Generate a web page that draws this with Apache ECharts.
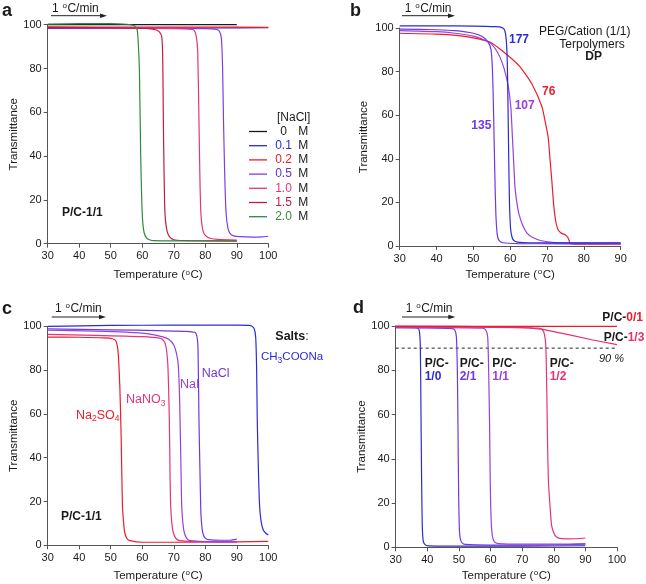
<!DOCTYPE html>
<html><head><meta charset="utf-8">
<script src="https://cdn.jsdelivr.net/npm/echarts@6.0.0/dist/echarts.min.js"></script>
<style>html,body{margin:0;padding:0;background:#fff}#c{width:646px;height:584px}</style>
</head><body><div id="c"></div>
<script>
// ---------- Panel a : [NaCl] series (Temperature, Transmittance) ----------
const a_0M  = [[30,100],[50,100],[70,100.1],[90,100]];
const a_01M = [[30,98.3],[60,98.4],[80,98.5],[100,98.6]];
const a_02M = [[30,99],[60,98.9],[80,98.9],[100,98.8]];
const a_05M = [[30,98.6],[60,98.4],[80,98.2],[83.5,97.9],[84.5,97],[85.1,94],[85.5,80],[85.8,55],[86.2,30],[86.6,14],[87.2,7],[87.9,4.6],[89,3.6],[91,3.2],[95,3],[98,3.1],[100,3.4]];
const a_10M = [[30,98.6],[60,98.4],[75,98],[76.4,97.5],[77.1,95],[77.6,88],[78,56],[78.3,30],[78.6,14],[79.1,7],[79.6,4.7],[80.5,3.2],[81.5,2.5],[84,2],[90,1.6]];
const a_15M = [[30,98.8],[50,98.6],[62,98.2],[64.5,97.6],[65.5,96.6],[66.2,94.5],[66.5,85],[66.7,56],[66.95,30],[67.2,14],[67.7,7],[68.3,4],[69.2,2.4],[70.4,1.7],[75,1.4],[90,1.2]];
const a_20M = [[30,100.3],[40,100.5],[50,100.5],[55,100.2],[57.5,99.5],[58.4,97.6],[58.8,90],[59.1,79],[59.5,41],[59.8,22],[60.1,11],[60.6,5],[61.4,2.5],[62.5,1.7],[63.5,1.4],[75,1.3],[90,1.3]];
const a_names = ['0 M','0.1 M','0.2 M','0.5 M','1.0 M','1.5 M','2.0 M'];

// ---------- Panel b : DP series ----------
const b_177 = [[30,101],[40,101],[50,100.9],[56,100.6],[57.8,100.2],[58.5,99],[58.9,95],[59.2,85],[59.4,65],[59.6,40],[59.8,20],[60.1,8],[60.5,4],[61,2.5],[62,1.8],[65,1.5],[75,1.4],[90,1.5]];
const b_135 = [[30,99.5],[40,99.2],[45,98.8],[50,97.6],[52.5,96],[54,93.5],[54.8,90],[55.2,80],[55.5,60],[55.8,35],[56.1,15],[56.5,5],[57,2.5],[58,1.5],[62,1.1],[75,1],[90,1.1]];
const b_107 = [[30,98.8],[40,98.3],[45,97.6],[50,96.3],[53,94.5],[55,92.5],[56.5,89],[57.5,85.5],[58.4,81],[59.5,73],[60.2,63],[60.6,50],[60.9,40],[61.3,27],[61.8,20],[62.4,14.5],[63.4,9.5],[64.5,6],[66,4],[68.5,2.4],[72,1.6],[80,1.3],[90,1.3]];
const b_76  = [[30,97.6],[40,97.2],[46,96.5],[50,95.5],[54.5,93.6],[58,89.3],[62.5,82.5],[66,74],[68.6,64],[69.5,57],[70.3,50],[70.8,40],[71.3,30],[71.8,19],[72.4,11],[73,7.5],[73.8,6],[74.9,5.2],[75.6,4],[76,2.5],[76.2,1.2],[78,0.9],[85,0.8],[90,0.8]];

// ---------- Panel c : salts ----------
const c_CH3COONa = [[30,100],[50,100.4],[70,100.5],[90,100.5],[94.5,100.3],[95.5,99],[96,95],[96.3,80],[96.5,57],[96.8,38],[97.2,19],[97.7,11],[98.4,7],[99.2,5.5],[100,4.7]];
const c_NaCl  = [[30,98.8],[50,98.4],[65,98],[75,97.6],[76.8,97.2],[77.4,95],[77.7,90],[78,57],[78.3,35],[78.6,15],[79,7.5],[79.4,4.7],[80,3.3],[81,2.6],[85,2.3],[88,2.3],[90,2.8]];
const c_NaI   = [[30,98.2],[45,97.8],[55,97.3],[62,96.5],[66.5,95.2],[68.5,94],[70,91.5],[70.8,88],[71.4,83],[71.8,70],[72,57],[72.3,35],[72.5,19],[72.9,10],[73.4,5.5],[74.2,3],[75.2,2.1],[80,1.7],[90,1.6]];
const c_NaNO3 = [[30,96.3],[45,95.9],[60,95.3],[65.5,94.6],[66.8,93.5],[67.5,91],[68.1,83],[68.4,70],[68.6,57],[68.8,35],[69,19],[69.4,10],[69.9,5.5],[70.8,3],[72,2.1],[80,1.6],[90,1.6]];
const c_Na2SO4 = [[30,95.1],[40,95],[48,94.7],[50.5,94.3],[51.6,93.4],[52.2,90],[52.5,85],[52.9,72],[53.3,50],[53.7,19],[54.1,10],[54.5,5.5],[55.2,3],[56.1,2.1],[60,1.4],[70,1.4],[80,1.5],[90,1.6],[100,1.8]];

// ---------- Panel d : P/C ratios ----------
const d_10 = [[30,99.5],[35,99.4],[37,99.1],[37.5,97.5],[37.8,90],[38,60],[38.2,30],[38.4,10],[38.7,3],[39.2,1.3],[40.3,0.6],[50,0.5],[70,0.5],[90,0.7]];
const d_21 = [[30,99.2],[40,99.1],[47.8,98.8],[48.7,98.2],[49.2,95],[49.5,80],[49.7,55],[49.9,25],[50.1,10],[50.4,4],[51,2],[52,1.3],[60,1],[75,1],[90,1.4]];
const d_11 = [[30,99.3],[45,99.3],[57.5,99],[58.5,98.2],[59.1,95],[59.4,80],[59.7,55],[59.9,30],[60.2,12],[60.6,5],[61.2,2.5],[62.5,1.7],[70,1.4],[80,1.4],[90,1.7]];
const d_12 = [[30,99.6],[50,99.5],[70,99.3],[75,99],[76.2,98.5],[77,96.5],[77.5,90],[77.8,70],[78,50],[78.3,30],[78.8,19],[79.3,10],[80,6.5],[80.8,4.8],[82,4],[85,3.8],[90,4.2]];
const d_13 = [[30,100],[50,99.8],[65,99.5],[72,99.1],[76.5,98.5],[85,96],[92,93.8],[100,91.6]];
const d_01 = [[30,99.8],[60,99.8],[100,99.8]];
const d_90 = [[30,90],[100,90]];

const FONT = '"Liberation Sans", Arial, Helvetica, sans-serif';
const TXT = '#1a1a1a';
const AX = '#555';
const BLUE = '#2b2bd6', PURP = '#6f38e2', VIOL = '#9a3fdc', RED = '#ec1c2c', PINK = '#e8327a', CRIM = '#c21c3e', GREEN = '#2e8b3e';

const grids = [
  {left:47.7, top:24.7, width:220.6, height:219},
  {left:399.7, top:28, width:221, height:218},
  {left:47.7, top:326.3, width:220.6, height:219},
  {left:395.7, top:326, width:221.3, height:221.3}
];
const xMax = [100, 90, 100, 100];
const xGap = [24.6, 22, 23.7, 21.7];
const yGap = [27.5, 29.8, 26.8, 25];

const supRich = {
  t: {fontSize:11.5, fontFamily:FONT, color:TXT, lineHeight:14},
  s: {fontSize:8, fontFamily:FONT, color:TXT, lineHeight:14, verticalAlign:'top', padding:[0,0.5,0,0.5]}
};

const xAxes = grids.map((g,i)=>({
  type:'value', gridIndex:i, min:30, max:xMax[i], interval:10,
  name:'{t|Temperature (}{s|o}{t|C)}', nameLocation:'middle', nameGap:xGap[i],
  nameTextStyle:{rich:supRich},
  axisLine:{show:true, lineStyle:{color:AX, width:1}},
  axisTick:{show:true, length:4, lineStyle:{color:AX, width:1}},
  axisLabel:{fontSize:11, fontFamily:FONT, color:TXT, margin:7},
  splitLine:{show:false}
}));
const yAxes = grids.map((g,i)=>({
  type:'value', gridIndex:i, min:0, max:100, interval:20,
  name:'Transmittance', nameLocation:'middle', nameGap:yGap[i], nameRotate:90,
  nameTextStyle:{fontSize:11.5, fontFamily:FONT, color:TXT},
  axisLine:{show:true, lineStyle:{color:AX, width:1}},
  axisTick:{show:true, length:4, lineStyle:{color:AX, width:1}},
  axisLabel:{fontSize:11, fontFamily:FONT, color:TXT, margin:6},
  splitLine:{show:false}
}));

function ln(data, color, gi, name, extra) {
  return Object.assign({
    type:'line', name:name, xAxisIndex:gi, yAxisIndex:gi, data:data,
    symbol:'none', showSymbol:false, smooth:0.2, clip:false,
    lineStyle:{width:1.2, color:color}, itemStyle:{color:color}, silent:true
  }, extra||{});
}

const aData = [a_0M, a_01M, a_02M, a_05M, a_10M, a_15M, a_20M];
const aCols = ['#1a1a1a', BLUE, RED, '#7b3fe4', PINK, CRIM, GREEN];
const aNumCols = ['#1a1a1a', BLUE, RED, '#6a30d8', PINK, CRIM, GREEN];

const series = [];
aData.forEach((d,k)=>series.push(ln(d, aCols[k], 0, a_names[k])));
series.push(ln(b_76, RED, 1, 'DP 76'));
series.push(ln(b_107, VIOL, 1, 'DP 107'));
series.push(ln(b_135, PURP, 1, 'DP 135'));
series.push(ln(b_177, BLUE, 1, 'DP 177'));
series.push(ln(c_Na2SO4, RED, 2, 'Na2SO4'));
series.push(ln(c_NaNO3, PINK, 2, 'NaNO3'));
series.push(ln(c_NaI, VIOL, 2, 'NaI'));
series.push(ln(c_NaCl, PURP, 2, 'NaCl'));
series.push(ln(c_CH3COONa, BLUE, 2, 'CH3COONa'));
series.push(ln(d_90, '#222', 3, '90 %', {smooth:false, lineStyle:{width:1, color:'#222', type:[3,3]}}));
series.push(ln(d_10, BLUE, 3, 'P/C-1/0'));
series.push(ln(d_21, PURP, 3, 'P/C-2/1'));
series.push(ln(d_11, VIOL, 3, 'P/C-1/1'));
series.push(ln(d_12, PINK, 3, 'P/C-1/2'));
series.push(ln(d_13, '#e8306a', 3, 'P/C-1/3', {smooth:false}));
series.push(ln(d_01, RED, 3, 'P/C-0/1', {smooth:false}));

const legRich = {m:{fontSize:12, fontFamily:FONT, color:TXT}};
aNumCols.forEach((c,k)=>{ legRich['k'+k] = {fontSize:12, fontFamily:FONT, color:c, width:23, align:'right'}; });

// ---------- annotations ----------
function T(x, y, text, opt) {
  opt = opt || {};
  return {type:'text', x:x, y:y, silent:true, style:Object.assign({
    text:text, font:(opt.bold?'bold ':'')+(opt.italic?'italic ':'')+(opt.size||12)+'px '+FONT,
    fill:opt.color||TXT, textAlign:opt.align||'left', align:opt.align||'left',
    textVerticalAlign:'middle', verticalAlign:'middle'
  }, opt.rich?{rich:opt.rich}:{})};
}
function arrow(x1, x2, y) {
  return [
    {type:'line', silent:true, shape:{x1:x1, y1:y, x2:x2-5, y2:y}, style:{stroke:'#222', lineWidth:1}},
    {type:'polygon', silent:true, shape:{points:[[x2-7,y-2.3],[x2,y],[x2-7,y+2.3]]}, style:{fill:'#222'}}
  ];
}
const rateRich = {
  t:{fontSize:12, fontFamily:FONT, fill:TXT, lineHeight:14},
  s:{fontSize:8, fontFamily:FONT, fill:TXT, lineHeight:14, verticalAlign:'top', padding:[0,0.5,0,0.5]}
};
function rate(x, y) { return T(x, y, '{t|1 }{s|o}{t|C/min}', {rich:rateRich}); }
function subRich(color, size) {
  return {
    n:{fontSize:size, fontFamily:FONT, fill:color, lineHeight:16},
    b:{fontSize:8.5, fontFamily:FONT, fill:color, lineHeight:16, verticalAlign:'bottom'}
  };
}
function pcRich(color) {
  return {
    k:{fontSize:12, fontFamily:FONT, fontWeight:'bold', fill:TXT, lineHeight:14},
    v:{fontSize:12, fontFamily:FONT, fontWeight:'bold', fill:color, lineHeight:14}
  };
}

const graphic = [
  T(2, 11, 'a', {bold:true, size:18}),
  T(350, 11, 'b', {bold:true, size:18}),
  T(2, 309, 'c', {bold:true, size:18}),
  T(353, 308, 'd', {bold:true, size:18}),
  rate(52, 8.5), ...arrow(51, 107, 15.7),
  rate(404.7, 8.5), ...arrow(402, 455, 15.7),
  rate(55, 308.5), ...arrow(51.7, 106, 317),
  rate(405.7, 308.5), ...arrow(402, 455.3, 317),
  // panel a
  T(62, 213, 'P/C-1/1', {bold:true}),
  T(277, 118, '[NaCl]'),
  // panel b
  T(509, 39.5, '177', {bold:true, color:BLUE}),
  T(542, 92, '76', {bold:true, color:RED}),
  T(514.7, 106, '107', {bold:true, color:VIOL}),
  T(471.3, 126, '135', {bold:true, color:PURP}),
  T(584.7, 31.5, 'PEG/Cation (1/1)', {align:'center'}),
  T(592, 45, 'Terpolymers', {align:'center'}),
  T(593.7, 57, 'DP', {bold:true, align:'center'}),
  // panel c
  T(61, 517, 'P/C-1/1', {bold:true}),
  T(275.3, 337, '{b|Salts}{r|:}', {rich:{b:{fontSize:12.5,fontFamily:FONT,fontWeight:'bold',fill:TXT}, r:{fontSize:12.5,fontFamily:FONT,fill:TXT}}}),
  T(261, 357, '{n|CH}{b|3}{n|COONa}', {rich:subRich(BLUE, 11.5)}),
  T(201.7, 373.5, 'NaCl', {color:PURP, size:12.5}),
  T(180, 385, 'NaI', {color:VIOL, size:12.5}),
  T(126, 400, '{n|NaNO}{b|3}', {rich:subRich(PINK, 12.5)}),
  T(76, 415.5, '{n|Na}{b|2}{n|SO}{b|4}', {rich:subRich(RED, 12.5)}),
  // panel d
  T(602.3, 318, '{k|P/C-}{v|0/1}', {rich:pcRich(RED)}),
  T(603.7, 338, '{k|P/C-}{v|1/3}', {rich:pcRich('#e8306a')}),
  T(599, 358.5, '90 %', {italic:true, size:11}),
  T(424.7, 363.3, 'P/C-', {bold:true}), T(424.7, 376.7, '1/0', {bold:true, color:BLUE}),
  T(459.7, 363.3, 'P/C-', {bold:true}), T(459.7, 376.7, '2/1', {bold:true, color:PURP}),
  T(492.3, 363.3, 'P/C-', {bold:true}), T(492.3, 376.7, '1/1', {bold:true, color:VIOL}),
  T(549.7, 363.3, 'P/C-', {bold:true}), T(549.7, 376.7, '1/2', {bold:true, color:PINK})
];

const chart = echarts.init(document.getElementById('c'), null, {renderer:'canvas'});
chart.setOption({
  animation:false,
  backgroundColor:'#fff',
  grid: grids,
  xAxis: xAxes,
  yAxis: yAxes,
  legend: {
    data:a_names, orient:'vertical', left:249, top:125.5, icon:'rect', itemWidth:18, itemHeight:1.3, itemGap:2.2,
    selectedMode:false, padding:0,
    formatter: function(name){ const k = a_names.indexOf(name); return '{k'+k+'|'+name.replace(' M','')+'}{m| M}'; },
    textStyle:{rich:legRich, fontFamily:FONT}
  },
  series: series,
  graphic: graphic
});
</script></body></html>
